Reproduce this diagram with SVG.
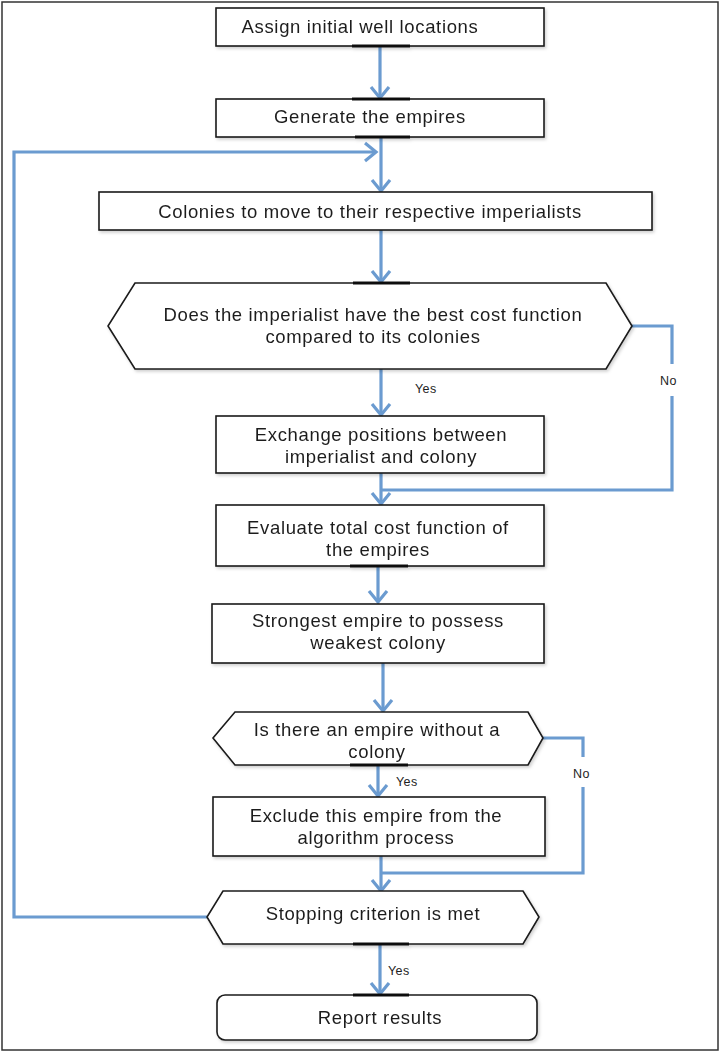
<svg xmlns="http://www.w3.org/2000/svg" width="720" height="1053" viewBox="0 0 720 1053">
  <defs>
    <style>
      .box { fill: #ffffff; stroke: #1a1a1a; stroke-width: 1.6; }
      .stub { stroke: #111; stroke-width: 3; }
      .t { font-family: "Liberation Sans", Arial, sans-serif; font-size: 18.5px; letter-spacing: 0.65px; fill: #1e1e1e; text-anchor: middle; }
      .lbl { font-family: "Liberation Sans", Arial, sans-serif; font-size: 12.5px; letter-spacing: 0.4px; fill: #1e1e1e; }
      .flow { fill: none; stroke: #6b9bd0; stroke-width: 3.2; stroke-linejoin: miter; }
      .arrow { marker-end: url(#chev); }
    </style>
    <marker id="chev" markerUnits="userSpaceOnUse" markerWidth="24" markerHeight="24" viewBox="-12 -12 24 24" refX="0" refY="0" orient="auto">
      <path d="M-11,-9 L0,0 L-11,9" fill="none" stroke="#6b9bd0" stroke-width="3.2"/>
    </marker>
    <filter id="shadow" x="-5%" y="-10%" width="110%" height="130%">
      <feDropShadow dx="1.5" dy="2" stdDeviation="1.5" flood-color="#000" flood-opacity="0.18"/>
    </filter>
  </defs>

  <!-- page frame -->
  <rect x="2" y="2" width="716" height="1048" fill="#ffffff" stroke="#333" stroke-width="1.5"/>

  <!-- connectors -->
  <g id="connectors">
    <path class="flow arrow" d="M380,46 V98"/>
    <path class="flow arrow" d="M381,137 V191"/>
    <path class="flow arrow" d="M207,917 H14 V152 H376"/>
    <path class="flow arrow" d="M381,230 V282"/>
    <path class="flow arrow" d="M381,369 V415"/>
    <path class="flow" d="M632,326 H672 V490 H381"/>
    <path class="flow arrow" d="M381,473 V504"/>
    <path class="flow arrow" d="M378,566 V602"/>
    <path class="flow arrow" d="M383,663 V711"/>
    <path class="flow arrow" d="M378,765 V796"/>
    <path class="flow" d="M543,738 H583 V873 H381"/>
    <path class="flow arrow" d="M381,856 V891"/>
    <path class="flow arrow" d="M380,944 V994"/>
  </g>

  <!-- connector labels -->
  <g id="labels">
    <text class="lbl" x="415" y="393">Yes</text>
    <rect x="656" y="364" width="32" height="32" fill="#ffffff"/>
    <text class="lbl" x="660" y="385">No</text>
    <text class="lbl" x="396" y="786">Yes</text>
    <rect x="568" y="757" width="32" height="30" fill="#ffffff"/>
    <text class="lbl" x="573" y="778">No</text>
    <text class="lbl" x="388" y="975">Yes</text>
  </g>

  <g id="assign" filter="url(#shadow)">
    <rect class="box" x="216" y="8" width="328" height="38"/>
    <line class="stub" x1="352" y1="46" x2="410" y2="46"/>
    <text class="t" x="360" y="33">Assign initial well locations</text>
  </g>

  <g id="generate" filter="url(#shadow)">
    <rect class="box" x="216" y="99" width="328" height="38"/>
    <line class="stub" x1="352" y1="99" x2="410" y2="99"/>
    <line class="stub" x1="355" y1="137" x2="410" y2="137"/>
    <text class="t" x="370" y="123">Generate the empires</text>
  </g>

  <g id="colonies" filter="url(#shadow)">
    <rect class="box" x="99" y="192" width="553" height="38"/>
    <text class="t" x="370" y="218">Colonies to move to their respective imperialists</text>
  </g>

  <g id="decision-best-cost" filter="url(#shadow)">
    <polygon class="box" points="135,283 606,283 632,326 606,369 135,369 108,326"/>
    <line class="stub" x1="353" y1="283" x2="410" y2="283"/>
    <text class="t" x="373" y="321">Does the imperialist have the best cost function<tspan x="373" dy="22">compared to its colonies</tspan></text>
  </g>

  <g id="exchange" filter="url(#shadow)">
    <rect class="box" x="216" y="416" width="328" height="57"/>
    <text class="t" x="381" y="441">Exchange positions between<tspan x="381" dy="22">imperialist and colony</tspan></text>
  </g>

  <g id="evaluate" filter="url(#shadow)">
    <rect class="box" x="216" y="505" width="328" height="61"/>
    <line class="stub" x1="350" y1="566" x2="408" y2="566"/>
    <text class="t" x="378" y="534">Evaluate total cost function of<tspan x="378" dy="22">the empires</tspan></text>
  </g>

  <g id="strongest" filter="url(#shadow)">
    <rect class="box" x="212" y="604" width="332" height="59"/>
    <text class="t" x="378" y="627">Strongest empire to possess<tspan x="378" dy="22">weakest colony</tspan></text>
  </g>

  <g id="decision-no-colony" filter="url(#shadow)">
    <polygon class="box" points="235,712 528,712 543,738 528,765 235,765 213,738"/>
    <line class="stub" x1="350" y1="765" x2="408" y2="765"/>
    <text class="t" x="377" y="736">Is there an empire without a<tspan x="377" dy="22">colony</tspan></text>
  </g>

  <g id="exclude" filter="url(#shadow)">
    <rect class="box" x="213" y="797" width="332" height="59"/>
    <text class="t" x="376" y="822">Exclude this empire from the<tspan x="376" dy="22">algorithm process</tspan></text>
  </g>

  <g id="decision-stop" filter="url(#shadow)">
    <polygon class="box" points="223,891 523,891 539,917 523,944 223,944 207,917"/>
    <line class="stub" x1="353" y1="944" x2="409" y2="944"/>
    <text class="t" x="373" y="920">Stopping criterion is met</text>
  </g>

  <g id="report" filter="url(#shadow)">
    <rect class="box" x="217" y="995" width="320" height="45" rx="8" ry="8"/>
    <line class="stub" x1="353" y1="995" x2="409" y2="995"/>
    <text class="t" x="380" y="1024">Report results</text>
  </g>
</svg>
